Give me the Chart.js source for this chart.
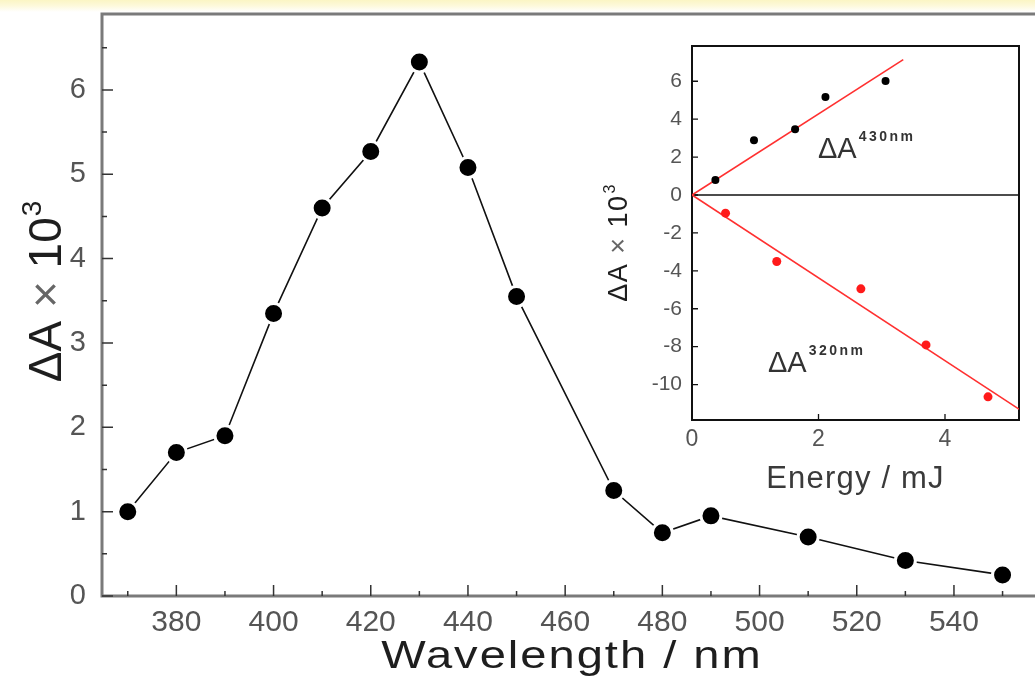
<!DOCTYPE html>
<html>
<head>
<meta charset="utf-8">
<script src="https://cdn.jsdelivr.net/npm/chart.js@4.4.1/dist/chart.umd.min.js"></script>
<style>
  body { margin: 0; width: 1035px; height: 685px; overflow: hidden; position: relative;
         background: linear-gradient(to bottom, #fbf5c4 0px, #fdf9dc 6px, #ffffff 12px); }
  #main { position: absolute; left: 0; top: 0; }
  #inset { position: absolute; left: 590px; top: 30px; }
</style>
</head>
<body>
<canvas id="main" width="1035" height="685"></canvas>
<canvas id="inset" width="440" height="480"></canvas>
<script>
// main spectrum
const wavelengths = [370, 380, 390, 400, 410, 420, 430, 440, 450, 470, 480, 490, 510, 530, 550];
const deltaA = [1.00, 1.70, 1.90, 3.35, 4.60, 5.27, 6.33, 5.08, 3.55, 1.25, 0.75, 0.95, 0.70, 0.42, 0.25];

const mainXTicks = [380, 400, 420, 440, 460, 480, 500, 520, 540];
const mainXMinor = [370, 390, 410, 430, 450, 470, 490, 510, 530, 550];
const mainYTicks = [0, 1, 2, 3, 4, 5, 6];
const mainYMinor = [0.5, 1.5, 2.5, 3.5, 4.5, 5.5, 6.5];

// inset: energy dependence
const energy430 = [0.37, 0.98, 1.63, 2.11, 3.06];
const dA430 = [0.79, 2.89, 3.47, 5.17, 6.02];
const energy320 = [0.53, 1.34, 2.67, 3.70, 4.68];
const dA320 = [-0.96, -3.51, -4.95, -7.91, -10.65];
// linear fits (end points)
const fit430X = [0, 3.34];
const fit430Y = [0, 7.14];
const fit320X = [0, 5.17];
const fit320Y = [0, -11.3];

const insetXTicks = [0, 2, 4];
const insetYTicks = [-10, -8, -6, -4, -2, 0, 2, 4, 6];

const pts = (xs, ys) => xs.map((x, i) => ({ x: x, y: ys[i] }));

// draws text, optionally with letter spacing and a horizontal stretch
function txt(ctx, s, x, y, size, color, align, spacing, stretch, weight) {
  const k = stretch || 1;
  ctx.save();
  ctx.font = (weight || '') + ' ' + size + 'px "Liberation Sans", Arial, sans-serif';
  ctx.fillStyle = color;
  ctx.textAlign = align || 'left';
  ctx.textBaseline = 'alphabetic';
  ctx.letterSpacing = (spacing || 0) + 'px';
  ctx.translate(x, y);
  ctx.scale(k, 1);
  ctx.fillText(s, 0, 0);
  const w = ctx.measureText(s).width * k;
  ctx.restore();
  return w;
}

// rotated "ΔA × 10^3" title, centred on (cx, cy)
function yTitle(ctx, cx, cy, size, supSize, spacing) {
  ctx.save();
  ctx.translate(cx, cy);
  ctx.rotate(-Math.PI / 2);
  ctx.font = size + 'px "Liberation Sans", Arial, sans-serif';
  ctx.letterSpacing = spacing + 'px';
  const w1 = ctx.measureText('ΔA').width;
  const w2 = ctx.measureText(' × ').width;
  const w3 = ctx.measureText('10').width;
  ctx.font = supSize + 'px "Liberation Sans", Arial, sans-serif';
  const w4 = ctx.measureText('3').width;
  let x = -(w1 + w2 + w3 + w4) / 2;
  const base = size * 0.36;
  x += txt(ctx, 'ΔA', x, base, size, '#1e1e1e', 'left', spacing);
  x += txt(ctx, ' × ', x, base, size, '#666', 'left', spacing);
  x += txt(ctx, '10', x, base, size, '#1e1e1e', 'left', spacing);
  txt(ctx, '3', x + 1, base - size * 0.42, supSize, '#1e1e1e', 'left', 0);
  ctx.restore();
}

const mainDecor = {
  id: 'mainDecor',
  beforeDatasetsDraw(chart) {
    const { ctx, chartArea: a, scales: { x, y } } = chart;
    ctx.save();
    ctx.strokeStyle = '#7a7a7a';
    ctx.lineWidth = 3;
    ctx.beginPath();
    ctx.moveTo(1035, a.top);
    ctx.lineTo(a.left, a.top);
    ctx.lineTo(a.left, a.bottom);
    ctx.lineTo(1035, a.bottom);
    ctx.stroke();

    ctx.strokeStyle = '#333';
    ctx.lineWidth = 1.5;
    ctx.beginPath();
    mainXTicks.forEach(v => { const p = x.getPixelForValue(v); ctx.moveTo(p, a.bottom); ctx.lineTo(p, a.bottom - 11); });
    mainXMinor.forEach(v => { const p = x.getPixelForValue(v); ctx.moveTo(p, a.bottom); ctx.lineTo(p, a.bottom - 5); });
    mainYTicks.forEach(v => { const p = y.getPixelForValue(v); ctx.moveTo(a.left, p); ctx.lineTo(a.left + 11, p); });
    mainYMinor.forEach(v => { const p = y.getPixelForValue(v); ctx.moveTo(a.left, p); ctx.lineTo(a.left + 5, p); });
    ctx.stroke();
    ctx.restore();
  },
  afterDraw(chart) {
    const { ctx } = chart;
    ctx.save();
    txt(ctx, 'Wavelength / nm', 572, 668, 38, '#1e1e1e', 'center', 1.6, 1.24);
    yTitle(ctx, 44, 292, 46, 28, 0);
    ctx.restore();
  }
};

new Chart(document.getElementById('main'), {
  type: 'scatter',
  data: {
    datasets: [{
      data: pts(wavelengths, deltaA),
      showLine: true,
      borderColor: '#111',
      borderWidth: 1.6,
      pointRadius: 10,
      pointHoverRadius: 10,
      pointBorderWidth: 3,
      pointBorderColor: '#ffffff',
      pointBackgroundColor: '#000000'
    }]
  },
  options: {
    responsive: false,
    devicePixelRatio: 1,
    animation: false,
    layout: { padding: { top: 14, left: 0, right: 0, bottom: 0 } },
    plugins: { legend: { display: false }, tooltip: { enabled: false } },
    scales: {
      x: {
        type: 'linear', min: 364.7, max: 554,
        grid: { display: false, drawTicks: false },
        border: { display: false },
        afterBuildTicks: s => { s.ticks = mainXTicks.map(v => ({ value: v })); },
        afterFit: s => { s.height = 89; s.paddingLeft = 0; s.paddingRight = 0; },
        ticks: { padding: 9, color: '#555', font: { family: 'Liberation Sans', size: 30 }, callback: v => String(v), maxRotation: 0, autoSkip: false }
      },
      y: {
        type: 'linear', min: 0, max: 6.9,
        grid: { display: false, drawTicks: false },
        border: { display: false },
        afterBuildTicks: s => { s.ticks = mainYTicks.map(v => ({ value: v })); },
        afterFit: s => { s.width = 102; s.paddingTop = 0; s.paddingBottom = 0; },
        ticks: { padding: 16, color: '#555', font: { family: 'Liberation Sans', size: 29 }, callback: v => String(v) }
      }
    }
  },
  plugins: [mainDecor]
});

const insetDecor = {
  id: 'insetDecor',
  beforeDraw(chart) {
    const { ctx, chartArea: a } = chart;
    ctx.save();
    ctx.fillStyle = '#fff';
    ctx.fillRect(a.left, a.top, a.right - a.left, a.bottom - a.top);
    ctx.restore();
  },
  beforeDatasetsDraw(chart) {
    const { ctx, chartArea: a, scales: { x, y } } = chart;
    ctx.save();
    ctx.strokeStyle = '#111';
    ctx.lineWidth = 2;
    ctx.strokeRect(a.left, a.top, a.right - a.left, a.bottom - a.top);
    const z = y.getPixelForValue(0);
    ctx.lineWidth = 1.6;
    ctx.beginPath();
    ctx.moveTo(a.left, z);
    ctx.lineTo(a.right, z);
    ctx.stroke();
    ctx.lineWidth = 1.3;
    ctx.beginPath();
    insetXTicks.forEach(v => { const p = x.getPixelForValue(v); ctx.moveTo(p, a.bottom); ctx.lineTo(p, a.bottom - 6); });
    insetYTicks.forEach(v => { const p = y.getPixelForValue(v); ctx.moveTo(a.left, p); ctx.lineTo(a.left + 6, p); });
    ctx.stroke();
    ctx.restore();
  },
  afterDraw(chart) {
    const { ctx, chartArea: a } = chart;
    ctx.save();
    txt(ctx, 'Energy / mJ', (a.left + a.right) / 2, 458, 31, '#3a3a3a', 'center', 1.2);
    yTitle(ctx, 27, 213, 27, 16, 1.5);
    // annotations
    let w = txt(ctx, 'ΔA', 228, 128, 29, '#333', 'left', 0);
    txt(ctx, '430nm', 228 + w + 2, 111, 14, '#333', 'left', 2.5, 1, 'bold');
    w = txt(ctx, 'ΔA', 178, 342, 29, '#333', 'left', 0);
    txt(ctx, '320nm', 178 + w + 2, 325, 14, '#333', 'left', 2.5, 1, 'bold');
    ctx.restore();
  }
};

new Chart(document.getElementById('inset'), {
  type: 'scatter',
  data: {
    datasets: [
      { data: pts(energy430, dA430), pointRadius: 4, pointHoverRadius: 4, pointBorderWidth: 0, pointBackgroundColor: '#000' },
      { data: pts(energy320, dA320), pointRadius: 4.5, pointHoverRadius: 4.5, pointBorderWidth: 0, pointBackgroundColor: '#ff1a1a' },
      { data: pts(fit430X, fit430Y), showLine: true, borderColor: '#ff3030', borderWidth: 1.6, pointRadius: 0 },
      { data: pts(fit320X, fit320Y), showLine: true, borderColor: '#ff3030', borderWidth: 1.6, pointRadius: 0 }
    ]
  },
  options: {
    responsive: false,
    devicePixelRatio: 1,
    animation: false,
    layout: { padding: { top: 16, left: 0, right: 11, bottom: 0 } },
    plugins: { legend: { display: false }, tooltip: { enabled: false } },
    scales: {
      x: {
        type: 'linear', min: 0, max: 5.17,
        grid: { display: false, drawTicks: false },
        border: { display: false },
        afterBuildTicks: s => { s.ticks = insetXTicks.map(v => ({ value: v })); },
        afterFit: s => { s.height = 90; s.paddingLeft = 0; s.paddingRight = 0; },
        ticks: { padding: 6, color: '#555', font: { family: 'Liberation Sans', size: 23 }, callback: v => String(v), maxRotation: 0, autoSkip: false }
      },
      y: {
        type: 'linear', min: -11.87, max: 7.86,
        grid: { display: false, drawTicks: false },
        border: { display: false },
        afterBuildTicks: s => { s.ticks = insetYTicks.map(v => ({ value: v })); },
        afterFit: s => { s.width = 102; s.paddingTop = 0; s.paddingBottom = 0; },
        ticks: { padding: 10, color: '#555', font: { family: 'Liberation Sans', size: 21 }, callback: v => String(v) }
      }
    }
  },
  plugins: [insetDecor]
});
</script>
</body>
</html>
